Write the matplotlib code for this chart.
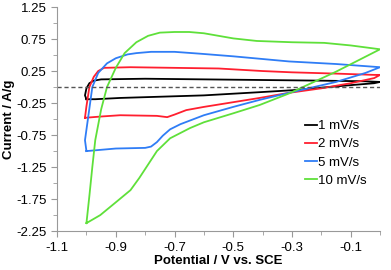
import matplotlib.pyplot as plt
from matplotlib.ticker import MultipleLocator

plt.rcParams['font.family'] = ['Liberation Sans', 'DejaVu Sans']
plt.rcParams['font.size'] = 9.5

# CV loops (potential V vs SCE, current A/g)
x_1 = [-1.0, -1.005, -1.0, -0.99, -0.975, -0.95, -0.8, -0.6, -0.4, -0.2, -0.05, 0.0,
       -0.02, -0.1, -0.3, -0.41, -0.6, -0.885, -0.97, -0.995, -1.0]
y_1 = [-0.19, -0.13, -0.02, 0.06, 0.10, 0.12, 0.13, 0.12, 0.11, 0.10, 0.09, 0.08,
       0.06, 0.03, -0.05, -0.08, -0.13, -0.17, -0.19, -0.19, -0.19]

x_2 = [-1.005, -1.0, -0.99, -0.975, -0.96, -0.94, -0.85, -0.7, -0.55, -0.4, -0.3, -0.15, -0.02, 0.0,
       -0.02, -0.1, -0.2, -0.31, -0.41, -0.6, -0.66, -0.70, -0.725, -0.76, -0.885, -0.95, -1.005]
y_2 = [-0.48, -0.30, 0.0, 0.16, 0.25, 0.30, 0.31, 0.30, 0.29, 0.25, 0.23, 0.21, 0.19, 0.19,
       0.14, 0.06, -0.02, -0.09, -0.17, -0.31, -0.36, -0.43, -0.47, -0.45, -0.44, -0.46, -0.48]

x_5 = [-1.0, -1.005, -0.995, -0.98, -0.96, -0.93, -0.9, -0.86, -0.83, -0.78, -0.7, -0.61, -0.5,
       -0.31, -0.15, 0.0,
       -0.05, -0.15, -0.31, -0.41, -0.5, -0.6, -0.68, -0.715, -0.74, -0.76, -0.78, -0.8, -0.9, -1.0]
y_5 = [-1.0, -0.83, -0.5, 0.0, 0.22, 0.37, 0.45, 0.51, 0.53, 0.55, 0.55, 0.52, 0.48,
       0.40, 0.36, 0.31,
       0.22, 0.08, -0.09, -0.20, -0.31, -0.44, -0.58, -0.66, -0.76, -0.86, -0.93, -0.95, -0.96, -1.0]

x_10 = [-1.0, -0.99, -0.98, -0.97, -0.95, -0.93, -0.9, -0.87, -0.83, -0.79, -0.75, -0.7, -0.65,
        -0.6, -0.55, -0.5, -0.42, -0.3, -0.19, -0.1, 0.0,
        -0.15, -0.31, -0.41, -0.5, -0.6, -0.647, -0.715, -0.76, -0.82, -0.85, -0.9, -0.953, -1.0]
y_10 = [-2.125, -1.7, -1.25, -0.83, -0.35, 0.0, 0.30, 0.53, 0.70, 0.80, 0.85, 0.86, 0.86,
        0.84, 0.80, 0.76, 0.72, 0.70, 0.69, 0.65, 0.59,
        0.24, -0.10, -0.28, -0.41, -0.55, -0.64, -0.80, -1.0, -1.42, -1.61, -1.80, -2.0, -2.125]

labels = ['1 mV/s', '2 mV/s', '5 mV/s', '10 mV/s']
colors = ['black', '#ff1f2f', '#2f7df6', '#5fe03a']

fig = plt.figure(figsize=(3.91, 2.70), dpi=100)
ax = fig.add_axes([0.146, 0.144, 0.826, 0.830])

for xs, ys, lab, c in zip([x_1, x_2, x_5, x_10], [y_1, y_2, y_5, y_10], labels, colors):
    ax.plot(xs, ys, color=c, lw=1.3, label=lab, solid_joinstyle='round')

ax.axhline(0, color='#555555', lw=1.0, ls=(0, (3, 2)))

ax.set_xlim(-1.1, 0.0)
ax.set_ylim(-2.25, 1.25)
ax.set_xticks([-1.1, -0.9, -0.7, -0.5, -0.3, -0.1])
ax.set_xticklabels(['-1.1', '-0.9', '-0.7', '-0.5', '-0.3', '-0.1'])
ax.xaxis.set_minor_locator(MultipleLocator(0.1))
ax.set_yticks([1.25, 0.75, 0.25, -0.25, -0.75, -1.25, -1.75, -2.25])
ax.set_yticklabels(['1.25', '0.75', '0.25', '-0.25', '-0.75', '-1.25', '-1.75', '-2.25'])
ax.yaxis.set_minor_locator(MultipleLocator(0.25))

for s in ['top', 'right']:
    ax.spines[s].set_visible(False)
for s in ['left', 'bottom']:
    ax.spines[s].set_color('#999999')
ax.tick_params(which='both', color='#999999', direction='out')
ax.tick_params(which='major', length=4)
ax.tick_params(which='minor', length=3)

ax.set_xlabel('Potential / V vs. SCE', fontweight='bold', labelpad=1)
ax.set_ylabel('Current / A/g', fontweight='bold', labelpad=1)

ax.legend(loc='upper left', frameon=False, handlelength=0.9, handletextpad=0.1,
          labelspacing=0.45, borderpad=0, borderaxespad=0,
          bbox_to_anchor=(305 / 391, 1 - 120 / 270), bbox_transform=fig.transFigure)

fig.savefig('out.png', dpi=100)
